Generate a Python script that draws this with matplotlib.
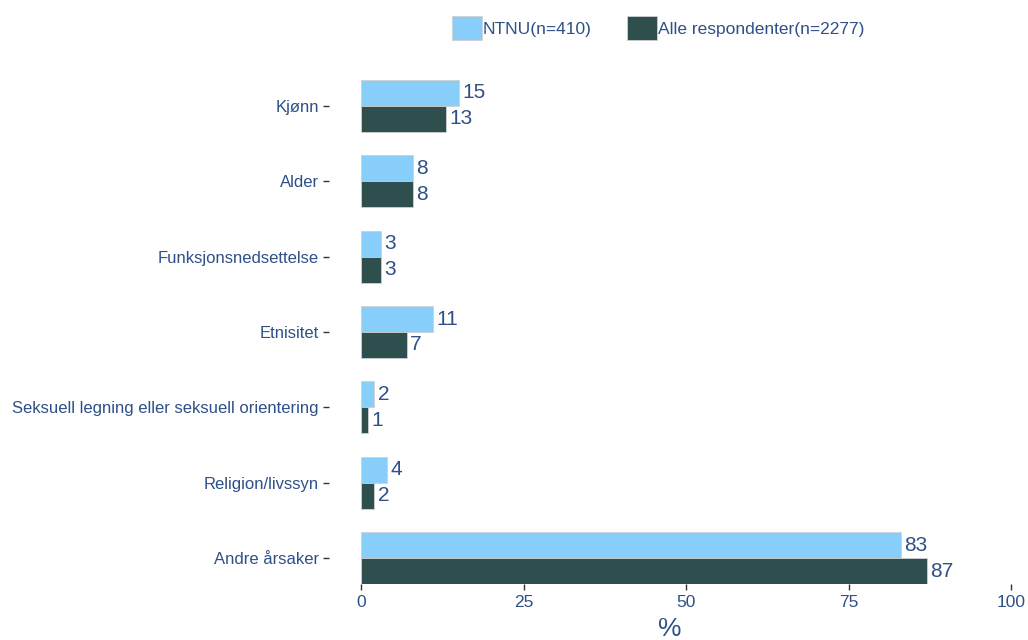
import matplotlib
matplotlib.use("Agg")
import matplotlib.pyplot as plt
from matplotlib.patches import Patch
import numpy as np

categories = ["Kjønn", "Alder", "Funksjonsnedsettelse", "Etnisitet",
              "Seksuell legning eller seksuell orientering", "Religion/livssyn",
              "Andre årsaker"]
ntnu = [15, 8, 3, 11, 2, 4, 83]
alle = [13, 8, 3, 7, 1, 2, 87]
series_labels = ["NTNU(n=410)", "Alle respondenter(n=2277)"]
xticks = [0, 25, 50, 75, 100]

plt.rcParams['font.family'] = ['Liberation Sans', 'DejaVu Sans']
light = "#87CEFA"
dark = "#2F4F4F"
txt = "#2E5087"

fig = plt.figure(figsize=(10.28, 6.4), dpi=100)
ax = fig.add_axes([328.5/1028, 1-584/640, 715/1028, (584-80)/640])

y = np.arange(len(categories))
h = 0.345
ax.barh(y - h/2, ntnu, height=h, color=light, edgecolor="#d0d0d0", linewidth=0.6)
ax.barh(y + h/2, alle, height=h, color=dark, edgecolor="#d0d0d0", linewidth=0.6)

for yi, v in zip(y, ntnu):
    ax.text(v + 0.55, yi - h/2, str(v), va="center", ha="left", fontsize=15, color=txt)
for yi, v in zip(y, alle):
    ax.text(v + 0.55, yi + h/2, str(v), va="center", ha="left", fontsize=15, color=txt)

ax.set_xlim(-5, 105)
ax.set_ylim(len(categories) - 1 + h, -h)
ax.set_yticks(y)
ax.set_yticklabels(categories, fontsize=12, color=txt)
ax.set_xticks(xticks)
ax.set_xticklabels([str(t) for t in xticks], fontsize=12.5, color=txt)
ax.tick_params(axis="both", length=4, width=1.0, color="#333333")
ax.tick_params(axis="y", pad=3)
ax.tick_params(axis="x", pad=4)
for s in ax.spines.values():
    s.set_visible(False)

fig.text(670/1028, 1-629/640, "%", fontsize=19, color=txt, ha="center", va="center")

handles = [Patch(facecolor=light, edgecolor="#d0d0d0", linewidth=0.6),
           Patch(facecolor=dark, edgecolor="#d0d0d0", linewidth=0.6)]
leg = fig.legend(handles, series_labels, loc="center", bbox_to_anchor=(658/1028, 1-28/640),
                 ncol=2, frameon=False, fontsize=12.5, handlelength=1.75, handleheight=1.75,
                 handletextpad=0.05, columnspacing=2.0)
for t in leg.get_texts():
    t.set_color(txt)

fig.savefig("out.png", dpi=100)
